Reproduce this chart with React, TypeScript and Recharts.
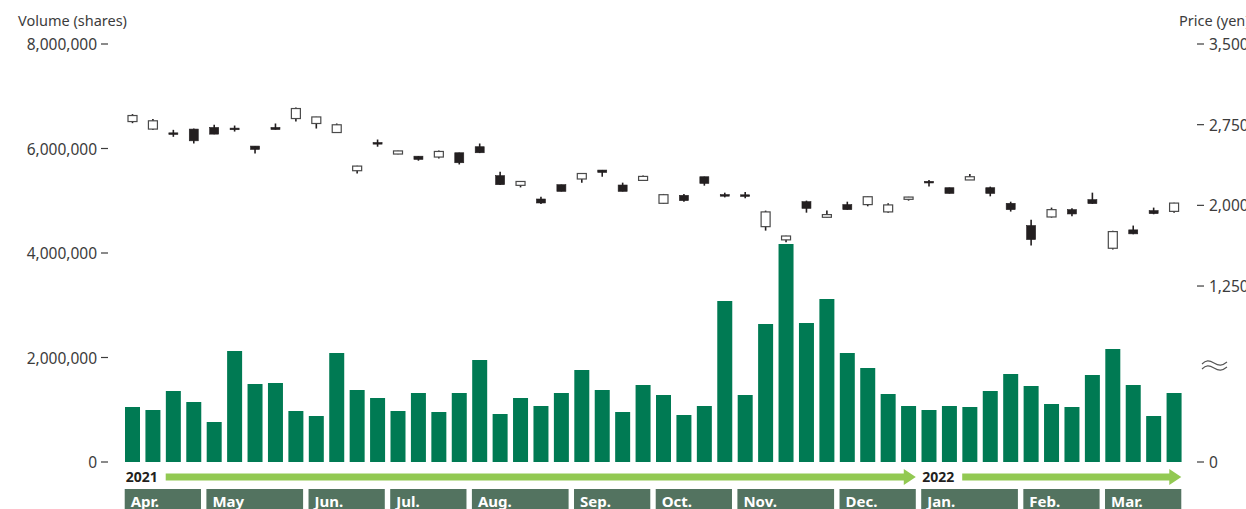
import { BarChart, Bar, XAxis, YAxis } from "recharts";

// fiscal year Apr 2021 - Mar 2022, weekly
const months = ["Apr.", "May", "Jun.", "Jul.", "Aug.", "Sep.", "Oct.", "Nov.", "Dec.", "Jan.", "Feb.", "Mar."];
const weeksPerMonth = [4, 5, 4, 4, 5, 4, 4, 5, 4, 5, 4, 4];
const years = ["2021", "2022"];
const yearFirstMonth = [0, 9];
const yearLastMonth = [8, 11];

const volume = [
  1053000, 995000, 1359000, 1148000, 766000, 2124000, 1493000, 1512000, 976000, 880000,
  2086000, 1378000, 1225000, 976000, 1321000, 957000, 1321000, 1952000, 919000, 1225000,
  1072000, 1321000, 1761000, 1378000, 957000, 1474000, 1282000, 900000, 1072000, 3081000,
  1282000, 2641000, 4172000, 2660000, 3120000, 2086000, 1799000, 1301000, 1072000, 995000,
  1072000, 1053000, 1359000, 1684000, 1455000, 1110000, 1053000, 1665000, 2163000, 1474000,
  880000, 1321000,
];

const open = [
  2779, 2709, 2674, 2709, 2724, 2718, 2551, 2724, 2807, 2761,
  2677, 2322, 2584, 2477, 2457, 2449, 2489, 2545, 2276, 2186,
  2059, 2192, 2245, 2328, 2189, 2232, 2019, 2093, 2266, 2100,
  2098, 1802, 1679, 2034, 1889, 2007, 2007, 1939, 2056, 2223,
  2164, 2236, 2164, 2019, 1812, 1892, 1960, 2053, 1601, 1772,
  1951, 1944,
];
const close = [
  2835, 2786, 2670, 2600, 2662, 2705, 2520, 2705, 2900, 2822,
  2749, 2365, 2576, 2506, 2427, 2501, 2396, 2489, 2192, 2222,
  2022, 2130, 2296, 2306, 2130, 2269, 2099, 2044, 2204, 2097,
  2095, 1939, 1715, 1972, 1914, 1960, 2080, 2004, 2077, 2211,
  2111, 2266, 2111, 1960, 1682, 1960, 1920, 2016, 1756, 1735,
  1923, 2021,
];
const high = [
  2848, 2802, 2702, 2714, 2749, 2742, 2552, 2761, 2909, 2823,
  2761, 2367, 2612, 2508, 2459, 2510, 2490, 2575, 2313, 2224,
  2081, 2193, 2298, 2329, 2211, 2278, 2106, 2106, 2267, 2118,
  2124, 1951, 1717, 2044, 1951, 2034, 2082, 2019, 2079, 2236,
  2165, 2291, 2174, 2034, 1867, 1979, 1972, 2118, 1765, 1812,
  1979, 2023,
];
const low = [
  2764, 2700, 2637, 2575, 2660, 2686, 2482, 2704, 2779, 2714,
  2674, 2297, 2545, 2476, 2415, 2436, 2380, 2486, 2190, 2167,
  2013, 2129, 2211, 2266, 2129, 2226, 2013, 2034, 2183, 2074,
  2065, 1765, 1657, 1932, 1888, 1959, 1991, 1932, 2044, 2176,
  2110, 2235, 2084, 1942, 1626, 1886, 1898, 2013, 1589, 1731,
  1917, 1932,
];

const volumeTicks = [0, 2000000, 4000000, 6000000, 8000000];
const priceTicks = [1250, 2000, 2750, 3500];
const priceFloor = -386; // axis is broken below 1,250; bottom shown as 0

const W = 1246;
const H = 509;
const LEFT = 122;
const RIGHT = 62;
const TOP = 44;
const BOTTOM = 47;
const BAR = 15;
const FONT = "'Noto Sans', sans-serif";

type Row = {
  week: string;
  month: number;
  pos: number;
  volume: number;
  open: number;
  close: number;
  high: number;
  low: number;
  range: [number, number];
};

const rows: Row[] = [];
months.forEach((_, m) => {
  for (let k = 0; k < weeksPerMonth[m]; k++) {
    const i = rows.length;
    rows.push({
      week: `${months[m]}${k + 1}`,
      month: m,
      pos: k,
      volume: volume[i],
      open: open[i],
      close: close[i],
      high: high[i],
      low: low[i],
      range: [low[i], high[i]],
    });
  }
});
const rowByWeek: Record<string, Row> = {};
rows.forEach((r) => (rowByWeek[r.week] = r));

const BAND = (W - LEFT - RIGHT) / rows.length;
const PLOT_BOTTOM = H - BOTTOM;

const weeksBetween = (a: number, b: number) =>
  weeksPerMonth.slice(a, b + 1).reduce((s, n) => s + n, 0);

function MonthTick(props: any) {
  const { x, payload } = props;
  const row = rowByWeek[payload.value];
  if (!row || row.pos !== 0) return <g />;
  const left = x - BAR / 2;
  const right = x + (weeksPerMonth[row.month] - 1) * BAND + BAR / 2;
  const yi = yearFirstMonth.indexOf(row.month);
  let year = null;
  if (yi >= 0) {
    const n = weeksBetween(yearFirstMonth[yi], yearLastMonth[yi]);
    const tip = x + (n - 1) * BAND + BAR / 2;
    const start = left + 41;
    const cy = PLOT_BOTTOM + 15;
    const pts = [
      [start, cy - 3.5], [tip - 12, cy - 3.5], [tip - 12, cy - 8], [tip, cy],
      [tip - 12, cy + 8], [tip - 12, cy + 3.5], [start, cy + 3.5],
    ].map((p) => p.join(",")).join(" ");
    year = (
      <g>
        <text x={left + 1} y={PLOT_BOTTOM + 20} fontFamily={FONT} fontSize={14} fontWeight={700} fill="#231f20">
          {years[yi]}
        </text>
        <polygon points={pts} fill="#92c952" />
      </g>
    );
  }
  return (
    <g>
      {year}
      <rect x={left} y={PLOT_BOTTOM + 27} width={right - left} height={24} fill="#537360" />
      <text x={left + 6} y={PLOT_BOTTOM + 44.5} fontFamily={FONT} fontSize={15} fontWeight={700} fill="#ffffff">
        {months[row.month]}
      </text>
    </g>
  );
}

function VolumeTick(props: any) {
  const { y, payload } = props;
  return (
    <g>
      <text x={97} y={y + 6} textAnchor="end" fontFamily={FONT} fontSize={15.5} fill="#3c3c3c">
        {Number(payload.value).toLocaleString("en-US")}
      </text>
      <line x1={101} x2={108} y1={y} y2={y} stroke="#3c3c3c" strokeWidth={1.2} />
    </g>
  );
}

function PriceTick(props: any) {
  const { y, payload } = props;
  const v = payload.value <= priceFloor ? 0 : payload.value;
  const yy = payload.value <= priceFloor ? y : y;
  return (
    <g>
      <line x1={1197} x2={1204} y1={yy} y2={yy} stroke="#3c3c3c" strokeWidth={1.2} />
      <text x={1209} y={yy + 6} fontFamily={FONT} fontSize={15.5} fill="#3c3c3c">
        {Number(v).toLocaleString("en-US")}
      </text>
    </g>
  );
}

function Candle(props: any) {
  const { x, y, width, height, payload } = props;
  if (!payload) return <g />;
  const top = Math.min(y, y + height);
  const h = Math.abs(height);
  const span = payload.high - payload.low;
  const py = (v: number) => top + ((payload.high - v) / span) * h;
  const cx = x + width / 2;
  const up = payload.close > payload.open;
  const bTop = py(Math.max(payload.open, payload.close));
  const bBot = py(Math.min(payload.open, payload.close));
  const bh = Math.max(bBot - bTop, 1.6);
  return (
    <g>
      <line x1={cx} x2={cx} y1={top} y2={top + h} stroke="#231f20" strokeWidth={1.6} />
      <rect
        x={x}
        y={bTop}
        width={width}
        height={bh}
        fill={up ? "#ffffff" : "#231f20"}
        stroke={up ? "#4a4a4a" : "#231f20"}
        strokeWidth={up ? 1.2 : 0.6}
      />
    </g>
  );
}

export default function App() {
  return (
    <div style={{ position: "relative", width: W, height: H, fontFamily: FONT }}>
      <style>{"body{margin:0}"}</style>
      <BarChart width={W} height={H} data={rows} margin={{ top: TOP, right: 0, left: 0, bottom: 0 }}>
        <XAxis
          dataKey="week"
          height={BOTTOM}
          interval={0}
          axisLine={false}
          tickLine={false}
          tick={MonthTick}
        />
        <XAxis xAxisId="c" dataKey="week" hide />
        <YAxis
          yAxisId="v"
          width={LEFT}
          domain={[0, 8000000]}
          ticks={volumeTicks}
          interval={0}
          axisLine={false}
          tickLine={false}
          tick={VolumeTick}
        />
        <YAxis
          yAxisId="p"
          orientation="right"
          width={RIGHT}
          domain={[priceFloor, 3500]}
          ticks={[priceFloor, ...priceTicks]}
          interval={0}
          allowDataOverflow
          axisLine={false}
          tickLine={false}
          tick={PriceTick}
        />
        <Bar dataKey="volume" yAxisId="v" barSize={BAR} fill="#007a53" isAnimationActive={false} />
        <Bar
          dataKey="range"
          xAxisId="c"
          yAxisId="p"
          barSize={9}
          shape={Candle}
          isAnimationActive={false}
        />
      </BarChart>
      <svg
        width={W}
        height={H}
        style={{ position: "absolute", left: 0, top: 0, pointerEvents: "none" }}
      >
        <text x={18} y={26} fontFamily={FONT} fontSize={14.5} fill="#3c3c3c">
          Volume (shares)
        </text>
        <text x={1179} y={26} fontFamily={FONT} fontSize={14.5} fill="#3c3c3c">
          Price (yen)
        </text>
        <g fill="none" stroke="#555" strokeWidth={1.1}>
          <path d="M1202,364 C1206,360 1209,360 1214,363 C1219,366 1222,366 1227,362" />
          <path d="M1202,369 C1206,365 1209,365 1214,368 C1219,371 1222,371 1227,367" />
        </g>
      </svg>
    </div>
  );
}
